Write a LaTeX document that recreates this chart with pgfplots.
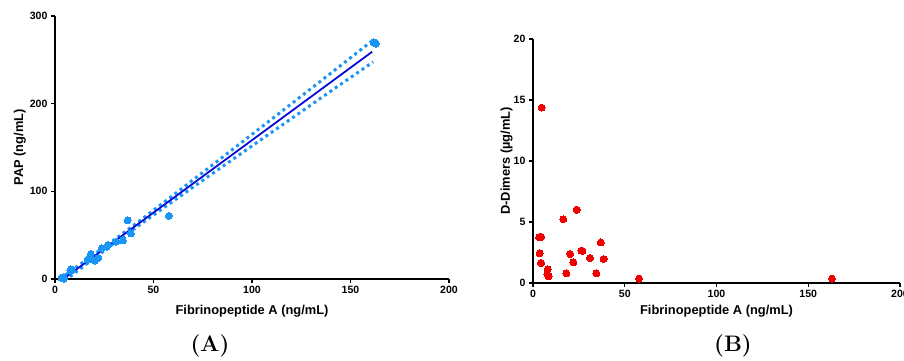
\documentclass[border=0pt]{standalone}
\usepackage{fontspec}
\usepackage{pgfplots}
\pgfplotsset{compat=1.18}
\newfontfamily\arial{Liberation Sans}
\definecolor{ltblue}{RGB}{25,150,245}
\definecolor{dkblue}{RGB}{10,10,215}
\definecolor{ptred}{RGB}{240,0,0}
\pgfplotsset{
  gp/.style={
    scale only axis,
    anchor=south west,
    axis x line*=bottom,
    axis y line*=left,
    axis line style={black, line width=1.6bp},
    tick align=outside,
    major tick length=4bp,
    tick style={black, line width=1.3bp},
    minor tick num=0,
    /pgf/number format/assume math mode=true,
    every tick label/.append style={font=\arial\bfseries\fontsize{10.6}{12}\selectfont},
    label style={font=\arial\bfseries\fontsize{12.9}{14}\selectfont},
    xmin=0, xmax=200,
    xtick={0,50,100,150,200},
  }
}
\begin{document}
\begin{tikzpicture}[x=1bp,y=1bp]
\path[use as bounding box] (0bp,0bp) rectangle (904bp,361bp);
% Panel A
\begin{axis}[gp,
  at={(55bp,82bp)},
  width=394bp, height=263bp,
  ymin=0, ymax=300,
  ytick={0,100,200,300},
  xlabel={Fibrinopeptide A (ng/mL)},
  ylabel={PAP (ng/mL)},
  xlabel style={at={(axis description cs:0.5,-0.1331)}, anchor=base},
  ylabel style={at={(axis description cs:-0.0812,0.5)}, anchor=base},
]
\addplot[ltblue, line width=3bp, dash pattern=on 3bp off 3.5bp] coordinates {
 (5,4.3) (20,28.3) (30,44.65) (45,69.8) (60,95.6) (80,130.2) (100,165.0) (120,199.8) (140,234.7) (160.6,271.0)};
\addplot[ltblue, line width=3bp, dash pattern=on 3bp off 3.5bp] coordinates {
 (5,-1.7) (20,23.9) (30,40.65) (45,65.0) (60,88.8) (80,120.4) (100,151.8) (120,183.0) (140,214.3) (161.5,247.6)};
\addplot[only marks, color=ltblue, mark=*, mark size=3.5bp, mark options={solid, draw=ltblue, fill=ltblue, line width=0pt}] coordinates {
 (3.3,1.5) (3.6,1.0) (4.4,2.0) (4.6,0.5) (7.8,9.5) (8.0,11.0) (8.5,10.0)
 (16.5,22.0) (17.8,26.0) (18.2,28.5) (20.2,21.0) (22.0,24.0) (23.8,35.0)
 (26.4,37.0) (26.9,39.0) (31.1,42.5) (34.5,44.0) (36.9,67.0) (38.5,52.0)
 (57.8,72.0) (161.8,270.0) (162.9,268.5)};
\addplot[dkblue, line width=1.8bp] coordinates {(4.2,0) (161,259.2)};
\end{axis}
% Panel B
\begin{axis}[gp,
  at={(533bp,78bp)},
  width=367bp, height=244bp,
  ymin=0, ymax=20,
  ytick={0,5,10,15,20},
  xlabel={Fibrinopeptide A (ng/mL)},
  ylabel={D-Dimers (µg/mL)},
  xlabel style={at={(axis description cs:0.5,-0.1311)}, anchor=base},
  ylabel style={at={(axis description cs:-0.0627,0.5)}, anchor=base},
]
\addplot[only marks, color=ptred, mark=*, mark size=3.5bp, mark options={solid, draw=ptred, fill=ptred, line width=0pt}] coordinates {
 (4.7,14.38) (3.3,3.75) (4.4,3.78) (3.6,2.44) (4.4,1.64) (8.0,1.12) (7.8,0.71) (8.5,0.55)
 (16.5,5.23) (23.8,6.0) (18.2,0.79) (20.2,2.38) (22.0,1.70) (26.4,2.66) (26.9,2.63)
 (31.1,2.05) (34.5,0.79) (36.9,3.32) (38.5,1.97) (57.8,0.36) (162.9,0.36)};
\end{axis}
\node[font=\bfseries\fontsize{22.5}{26}\selectfont] at (210bp,15bp) {(A)};
\node[font=\bfseries\fontsize{22.5}{26}\selectfont] at (733bp,15bp) {(B)};
\end{tikzpicture}
\end{document}
